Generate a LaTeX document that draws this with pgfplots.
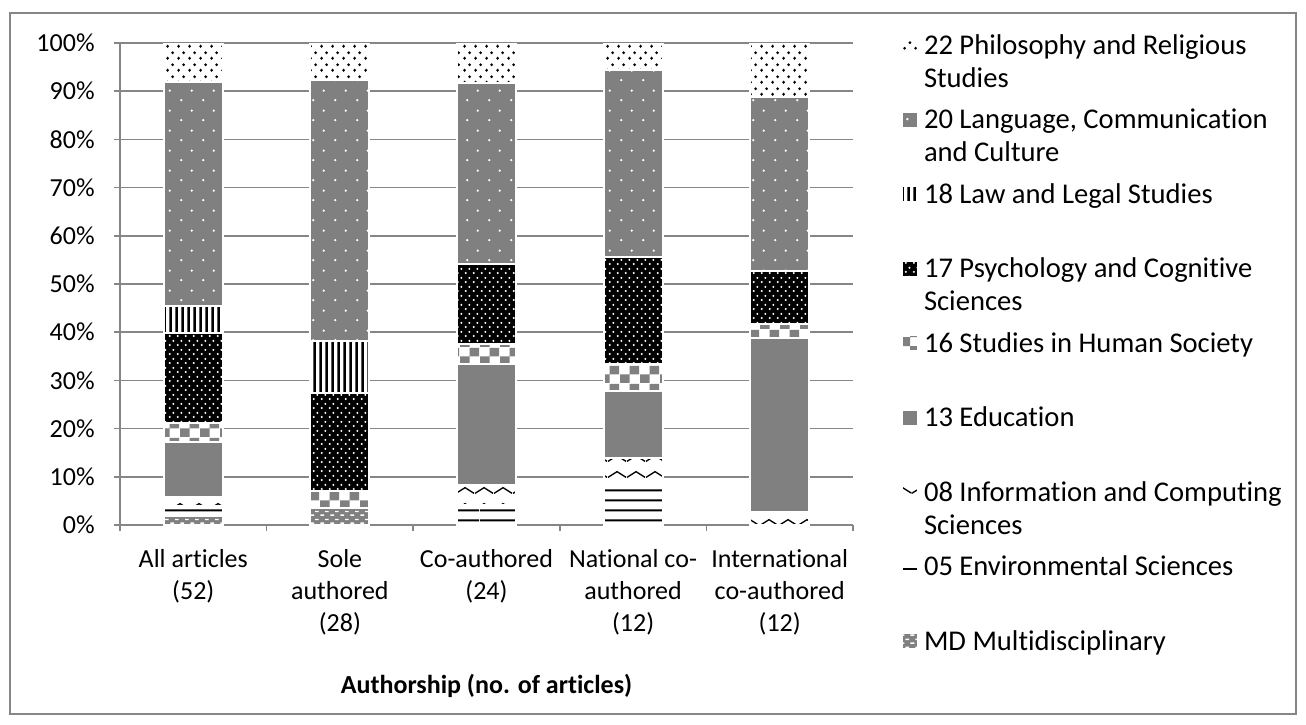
\documentclass[border=0pt]{standalone}
\usepackage{fontspec}
\setmainfont{Carlito}[Ligatures=NoCommon]
\usepackage{pgfplots}
\pgfplotsset{compat=1.18}
\usepackage{pgfplotstable}
\usetikzlibrary{patterns}

\definecolor{bargray}{RGB}{128,128,128}
\definecolor{axgray}{RGB}{134,134,134}

% fill patterns (form only, colour given by pattern color)
\pgfdeclarepatternformonly{phil}{\pgfqpoint{0pt}{0pt}}{\pgfqpoint{5.5pt}{5.7pt}}{\pgfqpoint{5.5pt}{5.7pt}}{%
  \pgfpathcircle{\pgfqpoint{1.375pt}{1.425pt}}{0.8pt}%
  \pgfpathcircle{\pgfqpoint{4.125pt}{4.275pt}}{0.8pt}%
  \pgfusepath{fill}}
\pgfdeclarepatternformonly{lang}{\pgfqpoint{0pt}{0pt}}{\pgfqpoint{11pt}{10pt}}{\pgfqpoint{11pt}{10pt}}{%
  \pgfpathcircle{\pgfqpoint{2.75pt}{2.5pt}}{0.65pt}%
  \pgfpathcircle{\pgfqpoint{8.25pt}{7.5pt}}{0.65pt}%
  \pgfusepath{fill}}
\pgfdeclarepatternformonly{law}{\pgfqpoint{0pt}{0pt}}{\pgfqpoint{3pt}{60pt}}{\pgfqpoint{3pt}{60pt}}{%
  \pgfpathrectangle{\pgfqpoint{0.8pt}{0pt}}{\pgfqpoint{1.4pt}{60pt}}%
  \pgfusepath{fill}}
\pgfdeclarepatternformonly{psych}{\pgfqpoint{0pt}{0pt}}{\pgfqpoint{4pt}{4.5pt}}{\pgfqpoint{4pt}{4.5pt}}{%
  \pgfpathcircle{\pgfqpoint{1pt}{1.125pt}}{0.6pt}%
  \pgfpathcircle{\pgfqpoint{3pt}{3.375pt}}{0.6pt}%
  \pgfusepath{fill}}
\pgfdeclarepatternformonly{checker}{\pgfqpoint{0pt}{0pt}}{\pgfqpoint{10pt}{9pt}}{\pgfqpoint{10pt}{9pt}}{%
  \pgfpathrectangle{\pgfqpoint{0pt}{0pt}}{\pgfqpoint{5pt}{4.5pt}}%
  \pgfpathrectangle{\pgfqpoint{5pt}{4.5pt}}{\pgfqpoint{5pt}{4.5pt}}%
  \pgfusepath{fill}}
\pgfdeclarepatternformonly{zigzag}{\pgfqpoint{0pt}{0pt}}{\pgfqpoint{9.5pt}{8pt}}{\pgfqpoint{9.5pt}{8pt}}{%
  \pgfsetlinewidth{0.7pt}%
  \pgfpathmoveto{\pgfqpoint{0pt}{4pt}}%
  \pgfpathlineto{\pgfqpoint{4.75pt}{7pt}}%
  \pgfpathlineto{\pgfqpoint{9.5pt}{4pt}}%
  \pgfusepath{stroke}}
\pgfdeclarepatternformonly{hlines}{\pgfqpoint{0pt}{0pt}}{\pgfqpoint{60pt}{5pt}}{\pgfqpoint{60pt}{5pt}}{%
  \pgfpathrectangle{\pgfqpoint{0pt}{2pt}}{\pgfqpoint{60pt}{1pt}}%
  \pgfusepath{fill}}
\pgfdeclarepatternformonly{mddash}{\pgfqpoint{0pt}{0pt}}{\pgfqpoint{5pt}{4pt}}{\pgfqpoint{5pt}{4pt}}{%
  \pgfpathrectangle{\pgfqpoint{0.25pt}{0.6pt}}{\pgfqpoint{2pt}{0.8pt}}%
  \pgfpathrectangle{\pgfqpoint{2.75pt}{2.6pt}}{\pgfqpoint{2pt}{0.8pt}}%
  \pgfusepath{fill}}

% percentages of articles by field
\pgfplotstableread{
x MD   E05  I08  Ed13  S16  P17   L18   La20  Ph22
0 1.92 1.92 1.92 11.54 3.85 18.59 5.77  46.48 8.01
1 3.57 0    0    0     3.57 20.24 10.71 54.17 7.74
2 0    4.17 4.17 25.00 4.17 16.67 0     37.50 8.33
3 0    8.33 5.56 13.89 5.56 22.22 0     38.89 5.56
4 0    0    2.78 36.11 2.78 11.11 0     36.11 11.11
}\data

\newcommand{\legtext}[1]{\parbox[t]{190pt}{#1}}

\begin{document}
\begin{tikzpicture}
\useasboundingbox (-60pt,-99.5pt) rectangle (593pt,262.5pt);
\begin{axis}[
  scale only axis, width=366.5pt, height=241pt,
  ybar stacked, bar width=29.5pt,
  xmin=-0.5, xmax=4.5, ymin=0, ymax=100,
  xtick={0,...,4},
  xticklabels={{All articles\\(52)},{Sole\\authored\\(28)},{Co-authored\\(24)},{National co-\\authored\\(12)},{International\\co-authored\\(12)}},
  minor xtick={-0.5,0.5,...,4.5},
  ytick={0,10,...,100},
  yticklabel={\pgfmathprintnumber{\tick}\%},
  /pgf/number format/assume math mode=true,
  axis x line*=bottom, axis y line*=left,
  axis line style={axgray, line width=0.75pt},
  ymajorgrids, grid style={axgray, line width=0.75pt},
  tick align=outside, major tick length=3pt, minor tick length=3pt,
  tick style={axgray, line width=0.75pt},
  major x tick style={draw=none},
  xticklabel style={align=center, font=\fontsize{13}{16}\selectfont, inner sep=0pt, yshift=-9pt},
  yticklabel style={font=\fontsize{13}{15}\selectfont, inner sep=0pt, anchor=east, xshift=-9.5pt},
  xlabel={Authorship (no. of articles)},
  xlabel style={at={(axis description cs:0.5,0)}, anchor=center, yshift=-80.5pt, font=\bfseries\fontsize{13}{15}\selectfont},
  reverse legend,
  legend image code/.code={\draw[#1] (-0.5pt,0.5pt) rectangle (7.5pt,8.5pt);},
  legend style={at={(1.0655,1.0207)}, anchor=north west, draw=none, fill=none,
    inner sep=0pt, outer sep=0pt, row sep=0pt, column sep=2.5pt,
    font=\fontsize{14.3}{16.5}\selectfont,
    nodes={anchor=base west, inner sep=0pt, text height=10.5pt, text depth=26.75pt}},
]
\addplot[fill=bargray, draw=white, line width=1pt, postaction={pattern=mddash, pattern color=white}] table[x=x,y=MD]{\data};
\addlegendentry{\legtext{MD Multidisciplinary}}
\addplot[fill=white, draw=white, line width=1pt, postaction={pattern=hlines, pattern color=black}] table[x=x,y=E05]{\data};
\addlegendentry{\legtext{05 Environmental Sciences}}
\addplot[fill=white, draw=white, line width=1pt, postaction={pattern=zigzag, pattern color=black}] table[x=x,y=I08]{\data};
\addlegendentry{\legtext{08 Information and Computing\\Sciences}}
\addplot[fill=bargray, draw=white, line width=1pt] table[x=x,y=Ed13]{\data};
\addlegendentry{\legtext{13 Education}}
\addplot[fill=white, draw=white, line width=1pt, postaction={pattern=checker, pattern color=bargray}] table[x=x,y=S16]{\data};
\addlegendentry{\legtext{16 Studies in Human Society}}
\addplot[fill=black, draw=white, line width=1pt, postaction={pattern=psych, pattern color=white}] table[x=x,y=P17]{\data};
\addlegendentry{\legtext{17 Psychology and Cognitive\\Sciences}}
\addplot[fill=white, draw=white, line width=1pt, postaction={pattern=law, pattern color=black}] table[x=x,y=L18]{\data};
\addlegendentry{\legtext{18 Law and Legal Studies}}
\addplot[fill=bargray, draw=white, line width=1pt, postaction={pattern=lang, pattern color=white}] table[x=x,y=La20]{\data};
\addlegendentry{\legtext{20 Language, Communication\\and Culture}}
\addplot[fill=white, draw=white, line width=1pt, postaction={pattern=phil, pattern color=black}] table[x=x,y=Ph22]{\data};
\addlegendentry{\legtext{22 Philosophy and Religious\\Studies}}
\end{axis}
\draw[axgray, line width=0.75pt] (-55pt,-94.5pt) rectangle (588pt,256pt);
\end{tikzpicture}
\end{document}
